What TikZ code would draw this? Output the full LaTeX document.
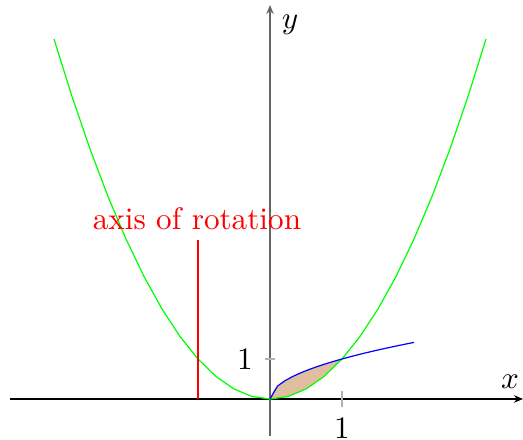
\documentclass[tikz,border=0pt]{standalone}
\usetikzlibrary{arrows.meta}
\begin{document}
\begin{tikzpicture}[x=24pt,y=13.333pt,
  every node/.style={scale=1.04},
  axisline/.style={-{Stealth[length=3pt,width=2.5pt]}},
  tickmark/.style={draw=gray!60,line width=0.4pt}]
\useasboundingbox (-3.75,-1.025) rectangle (3.514,9.975);
% shaded region
\fill[brown!50] plot[domain=0:1,samples=20] (\x,{sqrt(\x)}) -- plot[domain=1:0,samples=8] (\x,{\x*\x}) -- cycle;
% axes
\coordinate (xs) at (-3.611,0);
\coordinate (xe) at (3.514,0);
\coordinate (ys) at (0,-0.925);
\coordinate (ye) at (0,9.85);
\draw[axisline,black,line width=0.4pt] (xs) -- (xe);
\draw[axisline,black!60,line width=0.6pt] (ys) -- (ye);
% ticks
\draw[tickmark] (1,-0.2) -- (1,0.2);
\draw[tickmark] (-0.07,1) -- (0.07,1);
\node (xt) at (1,-0.725) {1};
\node (yt) at (-0.347,1) {1};
\node (xl) at (3.333,0.42) {$x$};
\node (yl) at (0.278,9.35) {$y$};
% curves
\draw[green,line width=0.4pt] plot[domain=-3:3,samples=25] (\x,{\x*\x});
\draw[blue,line width=0.4pt] plot[domain=0:2,samples=20] (\x,{sqrt(\x)});
% axis of rotation
\coordinate (rb) at (-1,0);
\coordinate (rt) at (-1,3.975);
\draw[red,line width=0.4pt] (rb) -- (rt);
\node[red] (rl) at (-1.014,4.5) {axis of rotation};
\end{tikzpicture}
\end{document}
